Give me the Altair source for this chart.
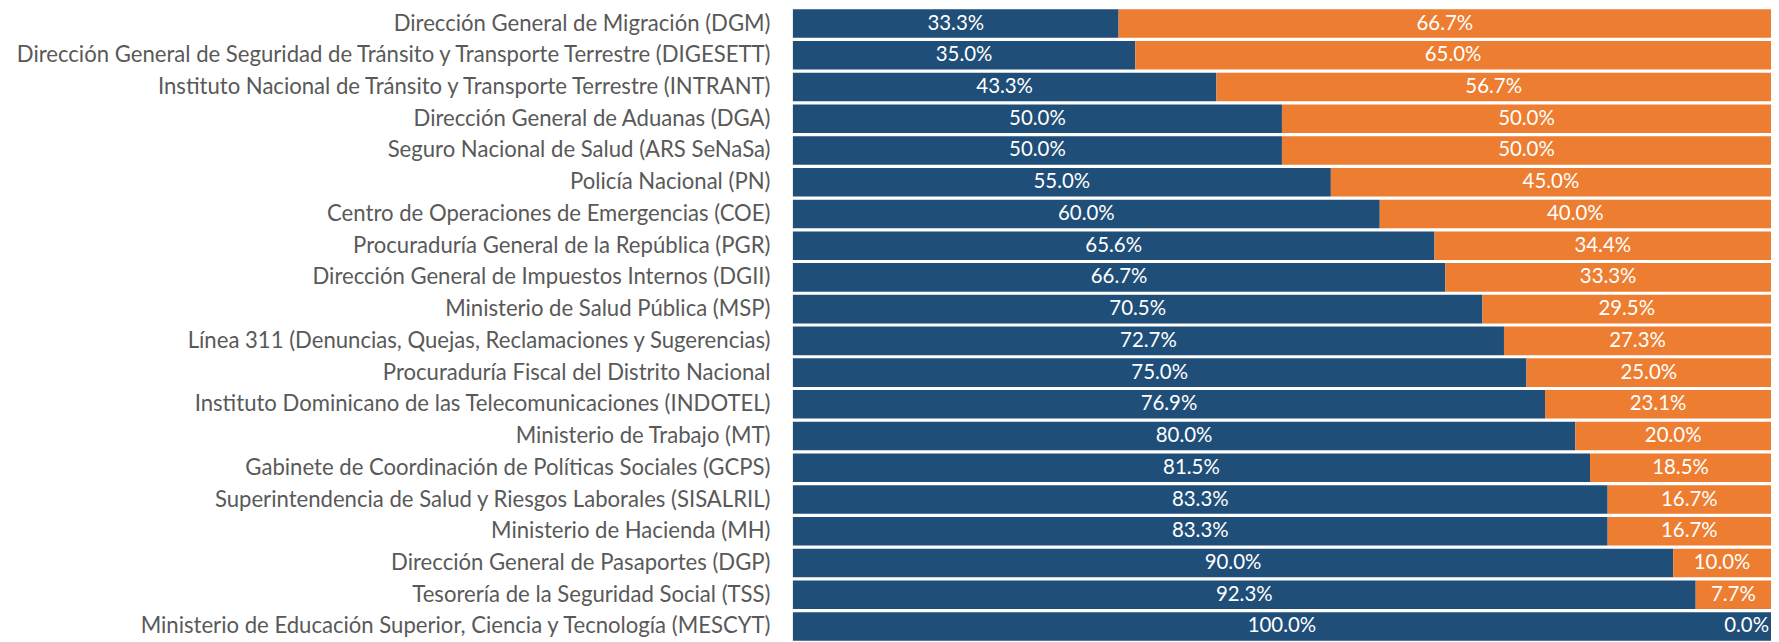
import altair as alt
import pandas as pd

categories = [
    "Dirección General de Migración (DGM)",
    "Dirección General de Seguridad de Tránsito y Transporte Terrestre (DIGESETT)",
    "Instituto Nacional de Tránsito y Transporte Terrestre (INTRANT)",
    "Dirección General de Aduanas (DGA)",
    "Seguro Nacional de Salud (ARS SeNaSa)",
    "Policía Nacional (PN)",
    "Centro de Operaciones de Emergencias (COE)",
    "Procuraduría General de la República (PGR)",
    "Dirección General de Impuestos Internos (DGII)",
    "Ministerio de Salud Pública (MSP)",
    "Línea 311 (Denuncias, Quejas, Reclamaciones y Sugerencias)",
    "Procuraduría Fiscal del Distrito Nacional",
    "Instituto Dominicano de las Telecomunicaciones (INDOTEL)",
    "Ministerio de Trabajo (MT)",
    "Gabinete de Coordinación de Políticas Sociales (GCPS)",
    "Superintendencia de Salud y Riesgos Laborales (SISALRIL)",
    "Ministerio de Hacienda (MH)",
    "Dirección General de Pasaportes (DGP)",
    "Tesorería de la Seguridad Social (TSS)",
    "Ministerio de Educación Superior, Ciencia y Tecnología (MESCYT)",
]
blue_values = [33.3, 35.0, 43.3, 50.0, 50.0, 55.0, 60.0, 65.6, 66.7, 70.5,
               72.7, 75.0, 76.9, 80.0, 81.5, 83.3, 83.3, 90.0, 92.3, 100.0]
orange_values = [66.7, 65.0, 56.7, 50.0, 50.0, 45.0, 40.0, 34.4, 33.3, 29.5,
                 27.3, 25.0, 23.1, 20.0, 18.5, 16.7, 16.7, 10.0, 7.7, 0.0]
series = ["A", "B"]
colors = ["#1F4E79", "#ED7D31"]

rows = []
for c, b, o in zip(categories, blue_values, orange_values):
    rows.append({"cat": c, "series": "A", "ord": 0, "value": b})
    rows.append({"cat": c, "series": "B", "ord": 1, "value": o})
df = pd.DataFrame(rows)

base = alt.Chart(df).transform_stack(
    stack="value", groupby=["cat"], as_=["v0", "v1"],
    sort=[alt.SortField("ord", order="ascending")]
).transform_calculate(
    mid="(datum.v0 + datum.v1) / 2",
    lbl="format(datum.value, '.1f') + '%'"
)

y = alt.Y("cat:N", sort=categories, title=None,
          scale=alt.Scale(paddingInner=0.1, paddingOuter=0.0),
          axis=alt.Axis(ticks=False, domain=False, labelFont="Lato",
                        labelFontSize=22.2, labelColor="#595959",
                        labelPadding=23, labelLimit=800))
xs = alt.Scale(domain=[0, 100], nice=False, zero=True)

bars = base.mark_bar().encode(
    y=y,
    x=alt.X("v0:Q", scale=xs, axis=None),
    x2="v1:Q",
    color=alt.Color("series:N", scale=alt.Scale(domain=series, range=colors), legend=None),
)

text = base.transform_filter("datum.value > 0").mark_text(
    font="Lato", fontSize=20.5, color="white", align="center", baseline="middle"
).encode(
    y=alt.Y("cat:N", sort=categories),
    x=alt.X("mid:Q", scale=xs),
    text="lbl:N",
)

text_zero = base.transform_filter("datum.value == 0").mark_text(
    font="Lato", fontSize=20.5, color="white", align="right", baseline="middle", dx=-2
).encode(
    y=alt.Y("cat:N", sort=categories),
    x=alt.X("v1:Q", scale=xs),
    text="lbl:N",
)

chart = (bars + text + text_zero).properties(
    width=982, height=634,
    autosize=alt.AutoSizeParams(type="none"),
    padding={"left": 788, "top": 0, "right": 0, "bottom": 0},
).configure_view(stroke=None)

chart.save("out.html", embed_options={"renderer": "svg", "actions": False})
